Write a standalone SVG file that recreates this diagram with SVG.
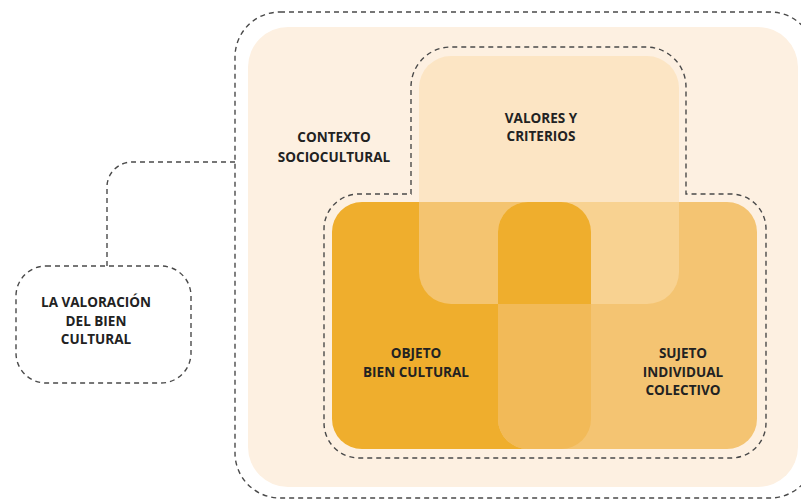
<svg xmlns="http://www.w3.org/2000/svg" width="801" height="500" viewBox="0 0 801 500">
<defs>
<style>
.dash{fill:none;stroke:#4a4a4a;stroke-width:1.4;stroke-dasharray:5 4}
.t{font-family:"Open Sans","Liberation Sans",sans-serif;font-weight:700;font-size:13.5px;fill:#222222;text-anchor:middle}
</style>
<clipPath id="cv"><rect x="419" y="56" width="260" height="248" rx="32"/></clipPath>
</defs>
<rect width="801" height="500" fill="#ffffff"/>
<g id="contexto">
<rect x="248" y="27" width="550" height="460" rx="40" fill="#fdf0e1"/>
<rect class="dash" x="235" y="12" width="580" height="486" rx="45"/>
<text class="t" x="334" y="142">CONTEXTO</text>
<text class="t" x="334" y="162">SOCIOCULTURAL</text>
</g>
<g id="valores">
<rect x="419" y="56" width="260" height="248" rx="32" fill="#fce5c4"/>
</g>
<g id="objeto">
<rect x="332" y="202" width="259" height="247" rx="30" fill="#efae2d"/>
</g>
<g id="sujeto">
<rect x="498" y="202" width="259" height="247" rx="30" fill="#f4c472"/>
</g>
<g id="interseccion">
<rect x="498" y="202" width="93" height="247" rx="30" fill="#f2ba58"/>
<g clip-path="url(#cv)">
<rect x="332" y="202" width="259" height="247" rx="30" fill="#f4c470"/>
<rect x="498" y="202" width="259" height="247" rx="30" fill="#f8d291"/>
<rect x="498" y="202" width="93" height="247" rx="30" fill="#efae2d"/>
</g>
</g>
<g id="labels">
<text class="t" x="541" y="123">VALORES Y</text>
<text class="t" x="541" y="141">CRITERIOS</text>
<text class="t" x="416" y="358">OBJETO</text>
<text class="t" x="416" y="377">BIEN CULTURAL</text>
<text class="t" x="683" y="358">SUJETO</text>
<text class="t" x="683" y="377">INDIVIDUAL</text>
<text class="t" x="683" y="395">COLECTIVO</text>
</g>
<g id="outline-valores-sujeto-objeto">
<path class="dash" d="M411,194 V87 A40,40 0 0 1 451,47 H646 A40,40 0 0 1 686,87 V194 H731 A35,35 0 0 1 766,229 V423 A35,35 0 0 1 731,458 H359 A35,35 0 0 1 324,423 V229 A35,35 0 0 1 359,194 Z"/>
</g>
<g id="valoracion">
<rect class="dash" x="16" y="266" width="175" height="117" rx="30"/>
<text class="t" x="96" y="307">LA VALORACIÓN</text>
<text class="t" x="96" y="326">DEL BIEN</text>
<text class="t" x="96" y="344">CULTURAL</text>
</g>
<g id="connectors">
<path class="dash" d="M235,162 H132 A25,25 0 0 0 107,187 V266"/>
</g>
</svg>
